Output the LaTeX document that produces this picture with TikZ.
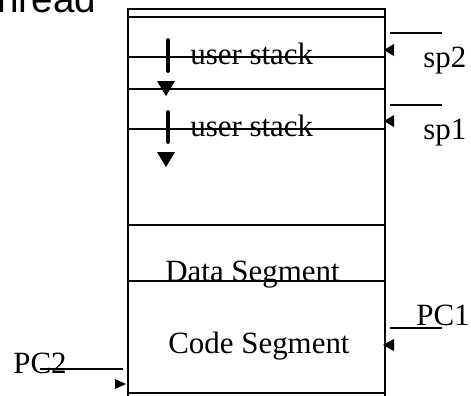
\documentclass[tikz,border=0pt]{standalone}
\usepackage{fontspec}
\setmainfont{Liberation Serif}
\newfontfamily\slidefont{Liberation Sans}

\begin{document}
\begin{tikzpicture}[x=0.02cm,y=-0.02cm,
    seg/.style={line width=0.9pt},
    lbl/.style={inner sep=0pt,anchor=base west,font=\fontsize{17.6}{20}\selectfont}]
    \useasboundingbox (0,0) rectangle (471,396);
    \clip (0,0) rectangle (471,396);

    % slide title, cut by the edge
    \node[inner sep=0pt,anchor=base west,font=\slidefont\fontsize{22}{24}\selectfont] (title) at (-3,12) {hread};

    % draw the box
    \draw[line width=1.2pt] (128,396) -- (128,9) -- (385,9) -- (385,396);
    \foreach \y in {17,57,89,129,225,281}
        \draw[seg] (128,\y) -- (385,\y);
    \draw[line width=1.2pt] (128,393) -- (385,393);

    % stacks growing down
    \draw[line width=2.2pt,line cap=round] (168,40) -- (168,71);
    \fill (157,81) -- (175,81) -- (166,96) -- cycle;
    \draw[line width=2.2pt,line cap=round] (168,112) -- (168,142);
    \fill (157,152) -- (175,152) -- (166,167) -- cycle;

    \node[lbl] (ustack2) at (190,64) {user stack};
    \node[lbl] (ustack1) at (190,136) {user stack};
    \node[lbl] (data) at (165,281) {Data Segment};
    \node[lbl] (code) at (168,353) {Code Segment};

    % pointers
    \node[lbl] (sp2) at (423,67) {sp2};
    \draw[line width=0.75pt] (390,33) -- (442,33);
    \fill (384,50) -- (394,44) -- (394,56) -- cycle;

    \node[lbl] (sp1) at (423,139) {sp1};
    \draw[line width=0.75pt] (390,105) -- (442,105);
    \fill (384,121) -- (394,115) -- (394,127) -- cycle;

    \node[lbl] (pc1) at (416,325) {PC1};
    \draw[line width=0.75pt] (390,328) -- (442,328);
    \fill (383,345) -- (394,339) -- (394,351) -- cycle;

    \node[lbl] (pc2) at (13,373) {PC2};
    \draw[line width=0.75pt] (40,369) -- (123,369);
    \fill (126,384) -- (115,379) -- (115,389) -- cycle;

\end{tikzpicture}
\end{document}
